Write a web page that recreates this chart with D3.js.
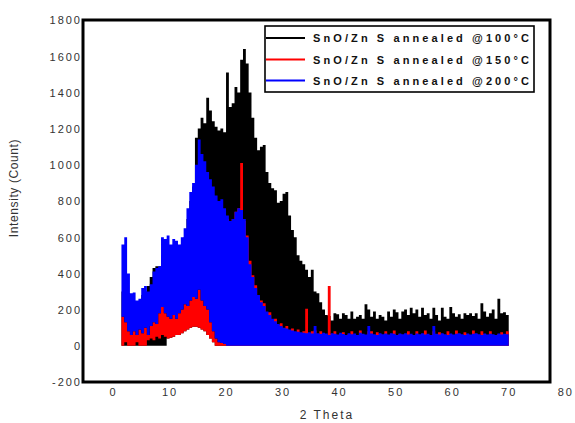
<!DOCTYPE html>
<html>
<head>
<meta charset="utf-8">
<script src="https://cdn.jsdelivr.net/npm/d3@7"></script>
<style>
  html, body { margin: 0; padding: 0; background: #fff; }
  svg { display: block; }
</style>
</head>
<body>
<svg id="chart" width="575" height="423"></svg>
<script>
// 2-theta sampling grid (degrees)
const twoTheta = [
  1.5, 2, 2.5, 3, 3.5, 4, 4.5, 5, 5.5, 6,
  6.5, 7, 7.5, 8, 8.5, 9, 9.5, 10, 10.5, 11,
  11.5, 12, 12.5, 13, 13.5, 14, 14.5, 15, 15.5, 16,
  16.5, 17, 17.5, 18, 18.5, 19, 19.5, 20, 20.5, 21,
  21.5, 22, 22.5, 23, 23.5, 24, 24.5, 25, 25.5, 26,
  26.5, 27, 27.5, 28, 28.5, 29, 29.5, 30, 30.5, 31,
  31.5, 32, 32.5, 33, 33.5, 34, 34.5, 35, 35.5, 36,
  36.5, 37, 37.5, 38, 38.5, 39, 39.5, 40, 40.5, 41,
  41.5, 42, 42.5, 43, 43.5, 44, 44.5, 45, 45.5, 46,
  46.5, 47, 47.5, 48, 48.5, 49, 49.5, 50, 50.5, 51,
  51.5, 52, 52.5, 53, 53.5, 54, 54.5, 55, 55.5, 56,
  56.5, 57, 57.5, 58, 58.5, 59, 59.5, 60, 60.5, 61,
  61.5, 62, 62.5, 63, 63.5, 64, 64.5, 65, 65.5, 66,
  66.5, 67, 67.5, 68, 68.5, 69, 69.5, 70
];

// SnO/ZnS annealed @100°C : noise band (upper / lower envelope)
const s100Hi = [
  300, 350, 250, 220, 220, 200, 220, 280, 300, 330,
  380, 430, 440, 440, 500, 500, 520, 500, 520, 520,
  520, 560, 600, 700, 800, 880, 1150, 1200, 1260, 1230,
  1370, 1300, 1240, 1210, 1190, 1200, 1180, 1510, 1320, 1340,
  1430, 1400, 1580, 1640, 1560, 1400, 1260, 1150, 1080, 1100,
  1110, 960, 900, 870, 860, 790, 800, 840, 850, 720,
  640, 600, 500, 470, 450, 420, 380, 420, 300, 290,
  240, 200, 170, 165, 140, 180, 175, 150, 180, 170,
  150, 190, 150, 160, 170, 150, 230, 200, 160, 190,
  150, 170, 160, 140, 190, 160, 200, 185, 150, 190,
  200, 170, 210, 180, 200, 160, 210, 170, 180, 150,
  210, 170, 140, 210, 160, 150, 215, 180, 160, 175,
  150, 180, 170, 180, 165, 180, 150, 235, 190, 160,
  180, 200, 150, 260, 180, 185, 170, 130
];
const s100Lo = [
  0, 0, 0, 0, 0, 0, 0, 0, 0, 0,
  0, 0, 0, 0, 0, 0, 40, 45, 50, 60,
  60, 70, 80, 90, 100, 105, 105, 100, 90, 80,
  60, 40, 20, 0, 0, 0, 0, 0, 0, 0,
  0, 0, 0, 0, 0, 0, 0, 0, 0, 0,
  0, 0, 0, 0, 0, 0, 0, 0, 0, 0,
  0, 0, 0, 0, 0, 0, 0, 0, 0, 0,
  0, 0, 0, 0, 0, 0, 0, 0, 0, 0,
  0, 0, 0, 0, 0, 0, 0, 0, 0, 0,
  0, 0, 0, 0, 0, 0, 0, 0, 0, 0,
  0, 0, 0, 0, 0, 0, 0, 0, 0, 0,
  0, 0, 0, 0, 0, 0, 0, 0, 0, 0,
  0, 0, 0, 0, 0, 0, 0, 0, 0, 0,
  0, 0, 0, 0, 0, 0, 0, 0
];

// SnO/ZnS annealed @150°C
const s150Hi = [
  160, 130, 80, 60, 80, 60, 90, 70, 100, 60,
  110, 130, 120, 180, 215, 180, 160, 150, 170, 150,
  180, 200, 230, 220, 250, 270, 260, 310, 250, 220,
  200, 130, 80, 40, 20, 15, 10, 700, 690, 700,
  740, 760, 1010, 690, 610, 470, 390, 335, 275, 250,
  235, 185, 185, 145, 150, 115, 125, 95, 110, 85,
  95, 75, 90, 70, 80, 205, 70, 80, 85, 65,
  80, 65, 60, 330, 65, 80, 58, 65, 75, 55,
  65, 80, 60, 55, 85, 60, 58, 80, 80, 60,
  75, 65, 60, 80, 58, 65, 85, 55, 65, 60,
  65, 80, 60, 55, 80, 60, 65, 85, 60, 55,
  80, 60, 75, 65, 60, 80, 65, 58, 85, 65,
  60, 75, 65, 58, 85, 65, 60, 80, 65, 58,
  80, 60, 55, 65, 75, 60, 80, 55
];
const s150Lo = [
  0, 20, 0, 0, 0, 20, 0, 0, 0, 30,
  40, 30, 50, 40, 60, 50, 40, 45, 50, 60,
  60, 70, 80, 90, 100, 105, 105, 100, 90, 80,
  60, 40, 20, 0, 0, 0, 0, 0, 0, 0,
  0, 0, 0, 0, 0, 0, 0, 0, 0, 0,
  0, 0, 0, 0, 0, 0, 0, 0, 0, 0,
  0, 0, 0, 0, 0, 0, 0, 0, 0, 0,
  0, 0, 0, 0, 0, 0, 0, 0, 0, 0,
  0, 0, 0, 0, 0, 0, 0, 0, 0, 0,
  0, 0, 0, 0, 0, 0, 0, 0, 0, 0,
  0, 0, 0, 0, 0, 0, 0, 0, 0, 0,
  0, 0, 0, 0, 0, 0, 0, 0, 0, 0,
  0, 0, 0, 0, 0, 0, 0, 0, 0, 0,
  0, 0, 0, 0, 0, 0, 0, 0
];

// SnO/ZnS annealed @200°C
const s200Hi = [
  560, 600, 400, 290, 295, 250, 260, 320, 330, 300,
  340, 410, 430, 440, 600, 590, 610, 560, 590, 580,
  560, 600, 650, 760, 850, 900, 1000, 1140, 1060, 1020,
  960, 920, 880, 830, 800, 810, 760, 720, 690, 700,
  740, 760, 750, 700, 600, 450, 380, 320, 280, 240,
  220, 190, 170, 150, 135, 120, 110, 100, 95, 90,
  85, 80, 78, 75, 72, 70, 75, 68, 110, 70,
  65, 72, 68, 60, 70, 66, 62, 72, 65, 60,
  70, 64, 68, 60, 72, 66, 62, 110, 68, 64,
  60, 70, 64, 68, 62, 70, 66, 60, 68, 64,
  70, 62, 66, 60, 68, 64, 70, 62, 66, 60,
  110, 66, 62, 70, 64, 60, 68, 62, 66, 70,
  64, 60, 68, 62, 66, 70, 64, 60, 68, 62,
  66, 64, 60, 68, 62, 66, 64, 60
];
const s200Lo = [
  160, 130, 80, 60, 80, 60, 90, 70, 100, 60,
  110, 130, 120, 180, 215, 180, 160, 150, 170, 150,
  180, 200, 230, 220, 250, 270, 260, 310, 250, 220,
  200, 130, 80, 40, 20, 15, 10, 0, 0, 0,
  0, 0, 0, 0, 0, 0, 0, 0, 0, 0,
  0, 0, 0, 0, 0, 0, 0, 0, 0, 0,
  0, 0, 0, 0, 0, 0, 0, 0, 0, 0,
  0, 0, 0, 0, 0, 0, 0, 0, 0, 0,
  0, 0, 0, 0, 0, 0, 0, 0, 0, 0,
  0, 0, 0, 0, 0, 0, 0, 0, 0, 0,
  0, 0, 0, 0, 0, 0, 0, 0, 0, 0,
  0, 0, 0, 0, 0, 0, 0, 0, 0, 0,
  0, 0, 0, 0, 0, 0, 0, 0, 0, 0,
  0, 0, 0, 0, 0, 0, 0, 0
];

const seriesNames = [
  "SnO/Zn S annealed @100°C",
  "SnO/Zn S annealed @150°C",
  "SnO/Zn S annealed @200°C"
];
const seriesColors = ["#000000", "#ff0000", "#0000ff"];
const xTicks = [0, 10, 20, 30, 40, 50, 60, 70, 80];
const yTicks = [-200, 0, 200, 400, 600, 800, 1000, 1200, 1400, 1600, 1800];
const xTitle = "2 Theta";
const yTitle = "Intensity (Count)";

(function draw() {
  const svg = d3.select("#chart");
  const pL = 83, pR = 550, pT = 20, pB = 382;

  const x = d3.scaleLinear().domain([-5.3, 77.3]).range([pL, pR]);
  const y = d3.scaleLinear().domain([-200, 1800]).range([pB, pT]);

  const bands = [
    { hi: s100Hi, lo: s100Lo, color: seriesColors[0] },
    { hi: s150Hi, lo: s150Lo, color: seriesColors[1] },
    { hi: s200Hi, lo: s200Lo, color: seriesColors[2] }
  ];

  const area = d3.area()
    .x(d => x(d.v))
    .y0(d => y(d.lo))
    .y1(d => y(d.hi))
    .curve(d3.curveStepAfter);

  const plot = svg.append("g");
  bands.forEach(b => {
    const data = twoTheta.map((v, i) => ({ v, hi: b.hi[i], lo: b.lo[i] }));
    plot.append("path")
      .datum(data)
      .attr("d", area)
      .attr("fill", b.color)
      .attr("stroke", "none");
  });

  // Frame
  svg.append("rect")
    .attr("x", pL).attr("y", pT)
    .attr("width", pR - pL).attr("height", pB - pT)
    .attr("fill", "none").attr("stroke", "#000").attr("stroke-width", 3);

  const fmt = d => String(d);

  // Axes (labels only)
  const xAxis = d3.axisBottom(x).tickValues(xTicks).tickSize(0).tickPadding(0).tickFormat(fmt);
  const gx = svg.append("g").attr("transform", `translate(0,${pB})`).call(xAxis);
  gx.select(".domain").remove();
  gx.selectAll("text")
    .attr("y", 14)
    .attr("dy", 0)
    .attr("font-family", "Liberation Sans, Arial, sans-serif")
    .attr("font-size", 11)
    .attr("letter-spacing", "2px")
    .attr("fill", "#333");

  const yAxis = d3.axisLeft(y).tickValues(yTicks).tickSize(0).tickPadding(0).tickFormat(fmt);
  const gy = svg.append("g").attr("transform", `translate(${pL - 1},0)`).call(yAxis);
  gy.select(".domain").remove();
  gy.selectAll("text")
    .attr("x", 0)
    .attr("dy", "0.36em")
    .attr("font-family", "Liberation Sans, Arial, sans-serif")
    .attr("font-size", 11)
    .attr("letter-spacing", "2px")
    .attr("fill", "#333");

  // Axis titles
  svg.append("text")
    .attr("x", 327).attr("y", 419)
    .attr("text-anchor", "middle")
    .attr("font-family", "Liberation Sans, Arial, sans-serif")
    .attr("font-size", 12)
    .attr("letter-spacing", "2px")
    .attr("fill", "#333")
    .text(xTitle);

  svg.append("text")
    .attr("transform", "translate(18,188) rotate(-90)")
    .attr("text-anchor", "middle")
    .attr("font-family", "Liberation Sans, Arial, sans-serif")
    .attr("font-size", 12)
    .attr("letter-spacing", "0.6px")
    .attr("fill", "#333")
    .text(yTitle);

  // Legend
  const lg = svg.append("g");
  lg.append("rect")
    .attr("x", 265).attr("y", 26).attr("width", 269).attr("height", 66)
    .attr("fill", "#fff").attr("stroke", "#000").attr("stroke-width", 1.6);
  const rowY = [38, 59.5, 80.5];
  seriesNames.forEach((name, i) => {
    lg.append("line")
      .attr("x1", 266).attr("x2", 305)
      .attr("y1", rowY[i]).attr("y2", rowY[i])
      .attr("stroke", seriesColors[i]).attr("stroke-width", 2);
    lg.append("text")
      .attr("x", 313).attr("y", rowY[i] + 4)
      .attr("font-family", "Liberation Sans, Arial, sans-serif")
      .attr("font-size", 11)
      .attr("font-weight", "bold")
      .attr("textLength", 216)
      .attr("lengthAdjust", "spacing")
      .attr("fill", "#111")
      .text(name);
  });
})();
</script>
</body>
</html>
